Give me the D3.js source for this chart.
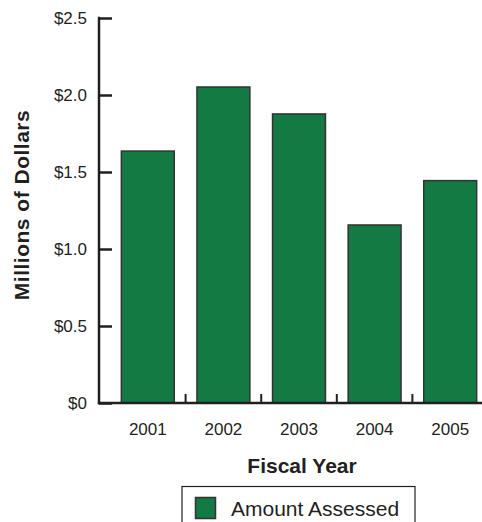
<!DOCTYPE html>
<html>
<head>
<meta charset="utf-8">
<script src="https://cdn.jsdelivr.net/npm/d3@7"></script>
<style>
  html, body { margin: 0; padding: 0; background: #fff; }
  svg text { font-family: "Liberation Sans", Arial, sans-serif; fill: #231f20; }
</style>
</head>
<body>
<svg id="chart" width="482" height="522"></svg>
<script>
const years = ["2001", "2002", "2003", "2004", "2005"];
const amountAssessed = [1.636, 2.052, 1.877, 1.156, 1.444];
const yTicks = [0, 0.5, 1.0, 1.5, 2.0, 2.5];
const yTickLabels = ["$0", "$0.5", "$1.0", "$1.5", "$2.0", "$2.5"];
const seriesName = "Amount Assessed";

const svg = d3.select("#chart");
const barColor = "#127a42";
const ink = "#231f20";

const x = d3.scaleBand().domain(years).range([110, 488]).paddingInner(0.3).paddingOuter(0.15);
const y = d3.scaleLinear().domain([0, 2.5]).range([403, 18]);
const x0 = 99;

// bars
svg.selectAll("rect.bar").data(years).enter().append("rect")
  .attr("class", "bar")
  .attr("x", d => x(d))
  .attr("width", x.bandwidth())
  .attr("y", (d, i) => y(amountAssessed[i]))
  .attr("height", (d, i) => y(0) - y(amountAssessed[i]))
  .attr("fill", barColor)
  .attr("stroke", "#333")
  .attr("stroke-width", 1.5);

// y axis
const yAxis = d3.axisRight(y).tickValues(yTicks).tickSize(13).tickFormat("");
const gy = svg.append("g").attr("transform", `translate(${x0},0)`).call(yAxis);
gy.select(".domain").remove();
gy.selectAll(".tick line").attr("stroke", ink).attr("stroke-width", 2.5);
svg.append("line").attr("x1", x0).attr("x2", x0).attr("y1", y(2.5) - 1.2).attr("y2", y(0) + 1.2)
  .attr("stroke", ink).attr("stroke-width", 2.5);
svg.selectAll("text.ytl").data(yTicks).enter().append("text")
  .attr("class", "ytl")
  .attr("x", 87).attr("y", d => y(d) + 6)
  .attr("text-anchor", "end")
  .attr("font-size", 17)
  .text((d, i) => yTickLabels[i]);

// x axis line
svg.append("line").attr("x1", x0 - 1.2).attr("x2", 482).attr("y1", y(0)).attr("y2", y(0))
  .attr("stroke", ink).attr("stroke-width", 2.5);
// ticks between bars
const sepTicks = years.slice(1).map(d => x(d) - x.step() * x.paddingInner() / 2);
svg.selectAll("line.sep").data(sepTicks).enter().append("line")
  .attr("class", "sep")
  .attr("x1", d => d).attr("x2", d => d)
  .attr("y1", y(0)).attr("y2", y(0) - 9)
  .attr("stroke", ink).attr("stroke-width", 2);

// x labels
const xAxis = d3.axisBottom(x).tickSize(0).tickPadding(0);
const gx = svg.append("g").attr("transform", `translate(0,${y(0)})`).call(xAxis);
gx.select(".domain").remove();
gx.selectAll(".tick text")
  .attr("font-size", 17)
  .attr("font-family", "Liberation Sans, Arial, sans-serif")
  .attr("fill", ink)
  .attr("dy", null)
  .attr("y", 32);

// axis titles
svg.append("text").attr("x", 302).attr("y", 473).attr("text-anchor", "middle")
  .attr("font-size", 21).attr("font-weight", "bold").text("Fiscal Year");
svg.append("text").attr("transform", "translate(29,205) rotate(-90)")
  .attr("text-anchor", "middle").attr("font-size", 21).attr("font-weight", "bold")
  .attr("letter-spacing", 0.5)
  .text("Millions of Dollars");

// legend
svg.append("rect").attr("x", 182).attr("y", 486.5).attr("width", 233).attr("height", 40)
  .attr("fill", "none").attr("stroke", ink).attr("stroke-width", 1.2);
svg.append("rect").attr("x", 195.5).attr("y", 497.5).attr("width", 20).attr("height", 21)
  .attr("fill", barColor).attr("stroke", "#333").attr("stroke-width", 1.5);
svg.append("text").attr("x", 231).attr("y", 516).attr("font-size", 21).text(seriesName);
</script>
</body>
</html>
